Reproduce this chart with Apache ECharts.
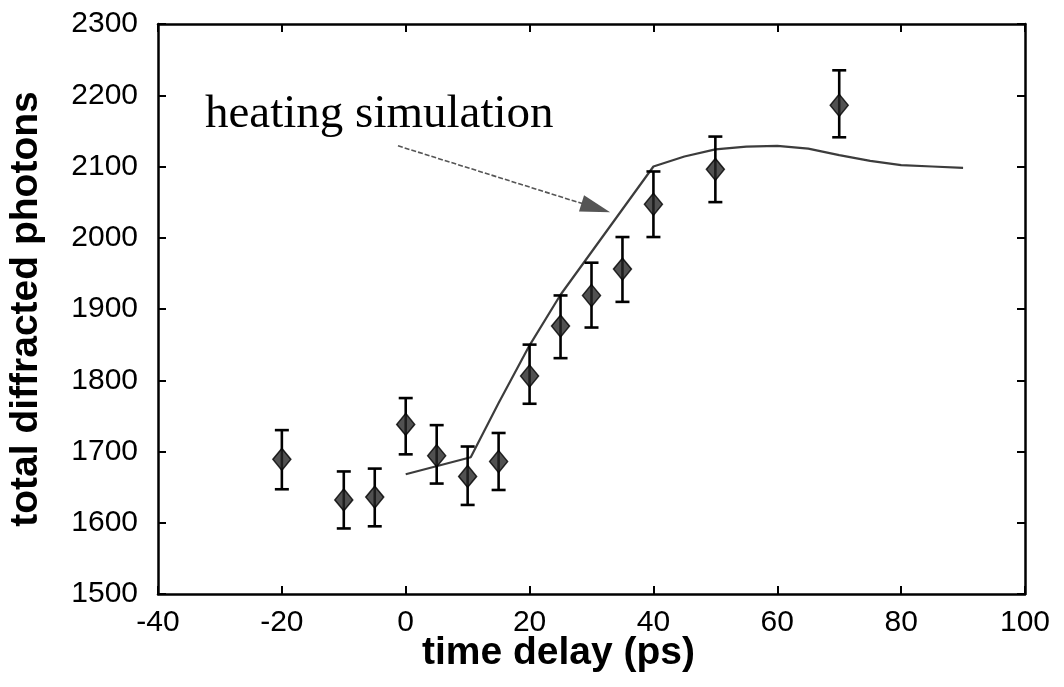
<!DOCTYPE html>
<html>
<head>
<meta charset="utf-8">
<script src="https://cdn.jsdelivr.net/npm/echarts@6/dist/echarts.min.js"></script>
<style>html,body{margin:0;padding:0;background:#fff;}#c{width:1064px;height:687px;}</style>
</head>
<body>
<div id="c"></div>
<script>
// measured data
const delays   = [-20, -10, -5, 0, 5, 10, 15, 20, 25, 30, 35, 40, 50, 70];
const photons  = [1689, 1632, 1636, 1738, 1694, 1665, 1686, 1806, 1876, 1919, 1956, 2047, 2096, 2186];
const errLow   = [1647, 1592, 1595, 1696, 1655, 1625, 1646, 1767, 1831, 1874, 1910, 2001, 2050, 2141];
const errHigh  = [1730, 1672, 1676, 1775, 1737, 1707, 1726, 1850, 1919, 1965, 2001, 2093, 2142, 2235];
// heating simulation curve
const simX = [0, 10.5, 15, 20, 25, 30, 35, 40, 45, 50, 55, 60, 65, 70, 75, 80, 85, 90];
const simY = [1668, 1692, 1768, 1849, 1920, 1980, 2040, 2100, 2114, 2124, 2128, 2129, 2125, 2116, 2108, 2102, 2100, 2098];
// annotation arrow (data coordinates; end = centre of the arrow head)
const arrowStart = [-1.25, 2129];
const arrowEnd = [30.7, 2042];
const annotationText = 'heating simulation';

const chart = echarts.init(document.getElementById('c'), null, {renderer: 'canvas'});

const pts = delays.map((d, i) => [d, photons[i]]);
const errs = delays.map((d, i) => [d, errLow[i], errHigh[i]]);
const sim = simX.map((x, i) => [x, simY[i]]);

const axisCommon = {
  axisLine: {show: true, onZero: false, lineStyle: {color: '#000', width: 2.5}},
  axisTick: {show: true, inside: true, length: 8, lineStyle: {color: '#000', width: 2}},
  splitLine: {show: false}
};
const plain = v => String(v);

const option = {
  backgroundColor: '#fff',
  animation: false,
  grid: {left: 158, right: 39, top: 24, bottom: 93, containLabel: false, outerBoundsMode: 'none'},
  xAxis: [
    Object.assign({
      type: 'value', min: -40, max: 100, interval: 20, position: 'bottom',
      name: 'time delay (ps)', nameLocation: 'middle', nameGap: 40, nameMoveOverlap: false,
      nameTextStyle: {fontFamily: 'Liberation Sans, Arial', fontWeight: 'bold', fontSize: 39, color: '#000', padding: [0, 66, 0, 0]},
      axisLabel: {fontFamily: 'Liberation Sans, Arial', fontSize: 30, color: '#000', margin: 14, formatter: plain}
    }, axisCommon),
    Object.assign({
      type: 'value', min: -40, max: 100, interval: 20, position: 'top',
      axisLabel: {show: false}
    }, axisCommon)
  ],
  yAxis: [
    Object.assign({
      type: 'value', min: 1500, max: 2300, interval: 100, position: 'left',
      name: 'total diffracted photons', nameLocation: 'middle', nameGap: 112, nameRotate: 90, nameMoveOverlap: false,
      nameTextStyle: {fontFamily: 'Liberation Sans, Arial', fontWeight: 'bold', fontSize: 39, color: '#000'},
      axisLabel: {fontFamily: 'Liberation Sans, Arial', fontSize: 30, color: '#000', margin: 20, formatter: plain}
    }, axisCommon),
    Object.assign({
      type: 'value', min: 1500, max: 2300, interval: 100, position: 'right',
      axisLabel: {show: false}
    }, axisCommon)
  ],
  series: [
    {
      type: 'line', name: 'simulation', data: sim, showSymbol: false, symbol: 'none',
      lineStyle: {color: '#3c3c3c', width: 2.2}, z: 2,
      markLine: {
        silent: true,
        symbol: ['none', 'triangle'],
        symbolSize: [17, 30],
        label: {show: false},
        lineStyle: {color: '#555', width: 1.6, type: [5, 2]},
        itemStyle: {color: '#6a6a6a'},
        data: [[{coord: arrowStart}, {coord: arrowEnd}]]
      }
    },
    {
      type: 'custom', name: 'errors', data: errs, z: 3,
      renderItem: function (params, api) {
        const x = api.value(0);
        const lo = api.coord([x, api.value(1)]);
        const hi = api.coord([x, api.value(2)]);
        const cap = 7;
        const style = {stroke: '#000', lineWidth: 2.6};
        return {
          type: 'group',
          children: [
            {type: 'line', shape: {x1: lo[0], y1: lo[1], x2: hi[0], y2: hi[1]}, style: style},
            {type: 'line', shape: {x1: lo[0] - cap, y1: lo[1], x2: lo[0] + cap, y2: lo[1]}, style: style},
            {type: 'line', shape: {x1: hi[0] - cap, y1: hi[1], x2: hi[0] + cap, y2: hi[1]}, style: style}
          ]
        };
      }
    },
    {
      type: 'scatter', name: 'data', data: pts, symbol: 'diamond', symbolSize: [18, 22], z: 4,
      itemStyle: {
        color: '#262626', borderColor: '#000', borderWidth: 1.5,
        decal: {symbol: 'circle', symbolSize: 0.5, color: 'rgba(255,255,255,0.4)', dashArrayX: [[3, 0]], dashArrayY: [3, 0], rotation: 0.785}
      }
    }
  ],
  graphic: [
    {
      type: 'text', left: 205, top: 91,
      style: {text: annotationText, font: '47px "Liberation Serif", "Times New Roman", serif', fill: '#000'}
    }
  ]
};
chart.setOption(option);
</script>
</body>
</html>
